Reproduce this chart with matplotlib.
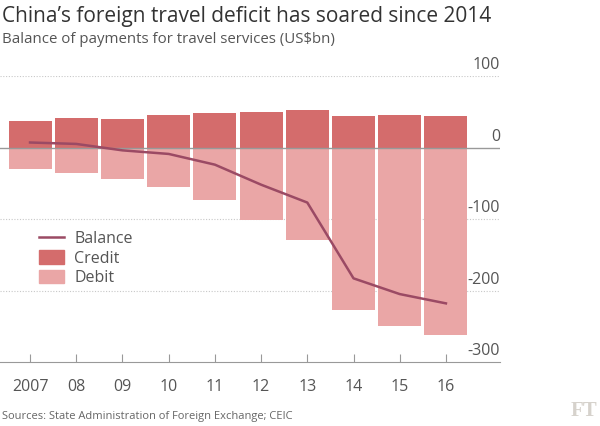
import matplotlib.pyplot as plt
from matplotlib.lines import Line2D
from matplotlib.patches import Patch

years = [2007, 2008, 2009, 2010, 2011, 2012, 2013, 2014, 2015, 2016]
year_labels = ["2007", "08", "09", "10", "11", "12", "13", "14", "15", "16"]
credit = [37, 41, 40, 46, 48, 50, 52, 44, 45, 44]
debit = [-30, -36, -44, -55, -73, -102, -129, -227, -250, -262]
balance = [7, 5, -4, -9, -24, -52, -77, -183, -205, -218]
y_ticks = [100, 0, -100, -200, -300]

CREDIT_COL = "#d46c6c"
DEBIT_COL = "#eaa6a6"
LINE_COL = "#9b4a64"
TEXT_COL = "#555555"
GRID_COL = "#c8c8c8"

plt.rcParams["font.family"] = ["Open Sans", "DejaVu Sans"]

fig = plt.figure(figsize=(6, 4.26), dpi=100)
ax = fig.add_axes([0, 1 - 362 / 426, 500 / 600, (362 - 76) / 426])

ax.bar(years, credit, width=0.93, color=CREDIT_COL, zorder=2)
ax.bar(years, debit, width=0.93, color=DEBIT_COL, zorder=2)
ax.plot(years, balance, color=LINE_COL, lw=1.8, zorder=3)

ax.set_xlim(2006.35, 2017.17)
ax.set_ylim(-300, 100)

for v in y_ticks:
    if v == 0:
        ax.axhline(0, color="#999999", lw=1, zorder=2.5)
    elif v != -300:
        ax.axhline(v, color=GRID_COL, lw=0.8, ls=(0, (1, 1.5)), zorder=1)
    ax.text(2017.17, v + 4, str(v), ha="right", va="bottom",
            fontsize=11.5, color=TEXT_COL)

for s in ["top", "left", "right"]:
    ax.spines[s].set_visible(False)
ax.spines["bottom"].set_color("#999999")
ax.set_yticks([])
ax.set_xticks(years)
ax.set_xticklabels(year_labels)
ax.tick_params(axis="x", direction="in", length=6, color="#999999",
               labelsize=11.5, labelcolor=TEXT_COL, pad=12)

handles = [
    Line2D([0], [0], color=LINE_COL, lw=1.8),
    Patch(color=CREDIT_COL),
    Patch(color=DEBIT_COL),
]
leg = ax.legend(handles, ["Balance", "Credit", "Debit"], loc="upper left",
                bbox_to_anchor=(0.065, 0.48), frameon=False, fontsize=11.5,
                handlelength=1.6, handleheight=0.9, labelspacing=0.2,
                handletextpad=0.6, borderaxespad=0)
for t in leg.get_texts():
    t.set_color(TEXT_COL)

fig.text(0.003, 0.985, "China\u2019s foreign travel deficit has soared since 2014",
         fontsize=15, color="#333333", ha="left", va="top")
fig.text(0.003, 0.925, "Balance of payments for travel services (US$bn)",
         fontsize=10.8, color=TEXT_COL, ha="left", va="top")
fig.text(0.003, 0.01, "Sources: State Administration of Foreign Exchange; CEIC",
         fontsize=8, color="#666666", ha="left", va="bottom")
fig.text(0.995, 0.012, "FT", fontsize=15, color="#d6d2cc", ha="right",
         va="bottom", family=["Liberation Serif", "DejaVu Serif"],
         fontweight="bold")

fig.savefig("out.png", dpi=100, facecolor="white")
